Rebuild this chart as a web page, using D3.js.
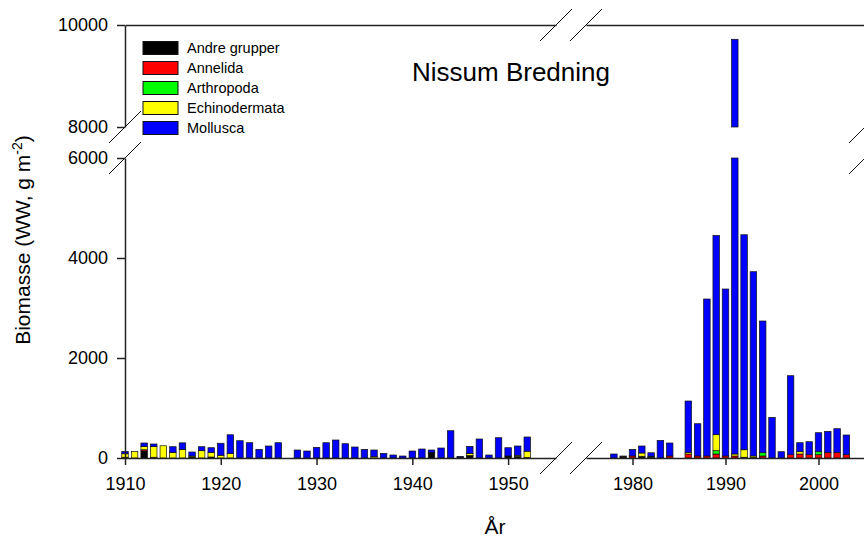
<!DOCTYPE html>
<html>
<head>
<meta charset="utf-8">
<script src="https://cdn.jsdelivr.net/npm/d3@7"></script>
<style>
  body { margin: 0; background: #fff; }
  svg { font-family: "Liberation Sans", Arial, Helvetica, sans-serif; }
  .axis path, .axis line { stroke: #222; stroke-width: 1.5; }
  .axis text { font-size: 18px; fill: #000; font-family: "Liberation Sans", Arial, sans-serif; }
  .brk { stroke: #111; stroke-width: 1; }
</style>
</head>
<body>
<svg id="chart" width="864" height="538"></svg>
<script>
// Groups (stack order, bottom to top)
const groups = ["Andre grupper", "Annelida", "Arthropoda", "Echinodermata", "Mollusca"];
const colors = ["#000000", "#ff0000", "#00ff00", "#ffff00", "#0000ff"];

// Period 1 (1910-1952), biomass g WW m-2
const years1 = [1910, 1911, 1912, 1913, 1914, 1915, 1916, 1917, 1918, 1919,
  1920, 1921, 1922, 1923, 1924, 1925, 1926,
  1928, 1929, 1930, 1931, 1932, 1933, 1934, 1935, 1936, 1937, 1938, 1939,
  1940, 1941, 1942, 1943, 1944, 1945, 1946, 1947, 1948, 1949,
  1950, 1951, 1952];
const andre1 = [0, 0, 140, 15, 0, 0, 0, 20, 0, 20,
  0, 0, 0, 0, 0, 0, 0,
  0, 0, 0, 0, 0, 0, 0, 0, 0, 0, 0, 0,
  0, 0, 100, 0, 0, 15, 40, 0, 0, 0,
  40, 30, 10];
const annelida1 = [15, 0, 25, 0, 0, 0, 0, 0, 0, 0,
  0, 0, 0, 0, 0, 0, 0,
  0, 0, 0, 0, 0, 0, 0, 0, 0, 0, 0, 0,
  0, 0, 0, 0, 0, 0, 10, 0, 0, 0,
  0, 0, 0];
const arthropoda1 = [0, 0, 0, 0, 0, 0, 0, 0, 0, 0,
  0, 0, 0, 0, 0, 0, 0,
  0, 0, 0, 0, 0, 0, 0, 0, 0, 0, 0, 0,
  0, 0, 0, 0, 0, 0, 0, 0, 0, 0,
  0, 0, 0];
const echino1 = [70, 130, 65, 212, 245, 113, 173, 20, 146, 93,
  55, 90, 0, 0, 0, 0, 0,
  0, 0, 0, 0, 0, 0, 0, 0, 25, 0, 0, 0,
  0, 0, 10, 0, 0, 0, 40, 0, 0, 0,
  0, 25, 125];
const mollusca1 = [45, 0, 70, 53, 0, 113, 130, 80, 80, 93,
  240, 375, 346, 306, 173, 240, 306,
  160, 140, 213, 306, 360, 286, 220, 173, 135, 93, 60, 40,
  140, 180, 50, 200, 546, 15, 143, 380, 60, 406,
  166, 185, 285];

// Period 2 (1978-2003)
const years2 = [1978, 1979, 1980, 1981, 1982, 1983, 1984,
  1986, 1987, 1988, 1989, 1990, 1991, 1992, 1993, 1994, 1995, 1996, 1997, 1998, 1999,
  2000, 2001, 2002, 2003];
const andre2 = [0, 25, 0, 35, 10, 0, 0,
  0, 0, 0, 0, 0, 0, 15, 10, 0, 0, 0, 0, 0, 0,
  0, 0, 0, 0];
const annelida2 = [0, 0, 40, 0, 0, 0, 40,
  80, 40, 40, 80, 40, 40, 0, 0, 40, 0, 0, 66, 80, 66,
  66, 113, 113, 66];
const arthropoda2 = [0, 0, 0, 0, 10, 0, 0,
  0, 0, 0, 66, 0, 0, 0, 0, 66, 0, 0, 0, 0, 0,
  60, 0, 0, 0];
const echino2 = [0, 15, 0, 65, 15, 0, 0,
  33, 0, 0, 320, 0, 40, 150, 30, 0, 0, 0, 0, 46, 0,
  0, 0, 0, 0];
const mollusca2 = [80, 0, 133, 140, 70, 353, 260,
  1027, 646, 3140, 3987, 3340, 9640, 4300, 3686, 2634, 813, 126, 1580, 180, 260,
  380, 420, 473, 394];

const xTicks1 = [1910, 1920, 1930, 1940, 1950];
const xTicks2 = [1980, 1990, 2000];
const yTicksLow = [0, 2000, 4000, 6000];
const yTicksHigh = [8000, 10000];

const svg = d3.select("#chart");

// Broken scales
const x1 = d3.scaleLinear().domain([1910, 1955]).range([125, 556]);
const x2 = d3.scaleLinear().domain([1975, 2005]).range([586, 865]);
const yLow = d3.scaleLinear().domain([0, 6000]).range([458, 158]);
const yHigh = d3.scaleLinear().domain([8000, 10000]).range([127, 25]);
const barW = 6.5;

function buildRows(years, series) {
  return years.map((yr, i) => {
    const row = { year: yr };
    groups.forEach((g, k) => (row[g] = series[k][i]));
    return row;
  });
}

const stack = d3.stack().keys(groups);

// Split every stacked segment into the part below and above the y break
function pieces(rows, xs) {
  const out = [];
  stack(rows).forEach((layer, k) => {
    layer.forEach((d) => {
      const v0 = d[0], v1 = d[1];
      if (v1 <= v0) return;
      const cx = xs(d.data.year);
      const lowTop = Math.min(v1, 6000);
      if (lowTop > v0) {
        out.push({ x: cx - barW / 2, y: yLow(lowTop), h: yLow(v0) - yLow(lowTop), fill: colors[k] });
      }
      if (v1 > 8000) {
        const a = Math.max(v0, 8000);
        out.push({ x: cx - barW / 2, y: yHigh(v1), h: yHigh(a) - yHigh(v1), fill: colors[k] });
      }
    });
  });
  return out;
}

const rows1 = buildRows(years1, [andre1, annelida1, arthropoda1, echino1, mollusca1]);
const rows2 = buildRows(years2, [andre2, annelida2, arthropoda2, echino2, mollusca2]);
const allPieces = pieces(rows1, x1).concat(pieces(rows2, x2));

// Bars
svg
  .append("g")
  .selectAll("rect")
  .data(allPieces)
  .enter()
  .append("rect")
  .attr("x", (d) => d.x)
  .attr("y", (d) => d.y)
  .attr("width", barW)
  .attr("height", (d) => d.h)
  .attr("fill", (d) => d.fill)
  .attr("stroke", "#111")
  .attr("stroke-width", 0.7);

// Axes
const fmt = d3.format("d");
svg.append("g").attr("class", "axis").attr("transform", "translate(125,0)")
  .call(d3.axisLeft(yLow).tickValues(yTicksLow).tickSize(8).tickSizeOuter(0).tickPadding(9).tickFormat(fmt));
svg.append("g").attr("class", "axis").attr("transform", "translate(125,0)")
  .call(d3.axisLeft(yHigh).tickValues(yTicksHigh).tickSize(8).tickSizeOuter(0).tickPadding(9).tickFormat(fmt));
svg.append("g").attr("class", "axis").attr("transform", "translate(865,0)")
  .call(d3.axisRight(yLow).tickValues([]).tickSizeOuter(0));
svg.append("g").attr("class", "axis").attr("transform", "translate(865,0)")
  .call(d3.axisRight(yHigh).tickValues([]).tickSizeOuter(0));

svg.append("g").attr("class", "axis").attr("transform", "translate(0,458)")
  .call(d3.axisBottom(x1).tickValues(xTicks1).tickSize(7).tickSizeOuter(0).tickPadding(12).tickFormat(fmt));
svg.append("g").attr("class", "axis").attr("transform", "translate(0,458)")
  .call(d3.axisBottom(x2).tickValues(xTicks2).tickSize(7).tickSizeOuter(0).tickPadding(12).tickFormat(fmt));
svg.append("g").attr("class", "axis").attr("transform", "translate(0,25)")
  .call(d3.axisTop(x1).tickValues([]).tickSizeOuter(0));
svg.append("g").attr("class", "axis").attr("transform", "translate(0,25)")
  .call(d3.axisTop(x2).tickValues([]).tickSizeOuter(0));

// Break marks
const s = 16;
const breaks = [];
[x1.range()[1], x2.range()[0]].forEach((bx) => {
  breaks.push({ cx: bx, cy: yLow(0) }, { cx: bx, cy: yHigh(10000) });
});
[x1.range()[0], x2.range()[1]].forEach((bx) => {
  breaks.push({ cx: bx, cy: yLow(6000) }, { cx: bx, cy: yHigh(8000) });
});
svg
  .append("g")
  .selectAll("line")
  .data(breaks)
  .enter()
  .append("line")
  .attr("class", "brk")
  .attr("x1", (d) => d.cx - s)
  .attr("y1", (d) => d.cy + s)
  .attr("x2", (d) => d.cx + s)
  .attr("y2", (d) => d.cy - s);

// Legend
const legend = svg
  .append("g")
  .selectAll("g")
  .data(groups)
  .enter()
  .append("g")
  .attr("transform", (d, i) => `translate(143,${48 + i * 20})`);
legend
  .append("rect")
  .attr("x", 0)
  .attr("y", -6.5)
  .attr("width", 35)
  .attr("height", 13)
  .attr("fill", (d, i) => colors[i])
  .attr("stroke", "#111")
  .attr("stroke-width", 1);
legend
  .append("text")
  .attr("x", 44)
  .attr("y", 0)
  .attr("dy", "0.35em")
  .attr("font-size", 14.5)
  .text((d) => d);

// Title and axis labels
svg.append("text").attr("x", 412).attr("y", 81).attr("font-size", 26).text("Nissum Bredning");

svg.append("text").attr("x", 495).attr("y", 534).attr("font-size", 21).attr("text-anchor", "middle").text("År");

const yl = svg
  .append("text")
  .attr("transform", "translate(30,240) rotate(-90)")
  .attr("font-size", 21)
  .attr("text-anchor", "middle");
yl.append("tspan").text("Biomasse (WW, g m");
yl.append("tspan").attr("font-size", 14).attr("dy", -8).text("-2");
yl.append("tspan").attr("dy", 8).text(")");
</script>
</body>
</html>
